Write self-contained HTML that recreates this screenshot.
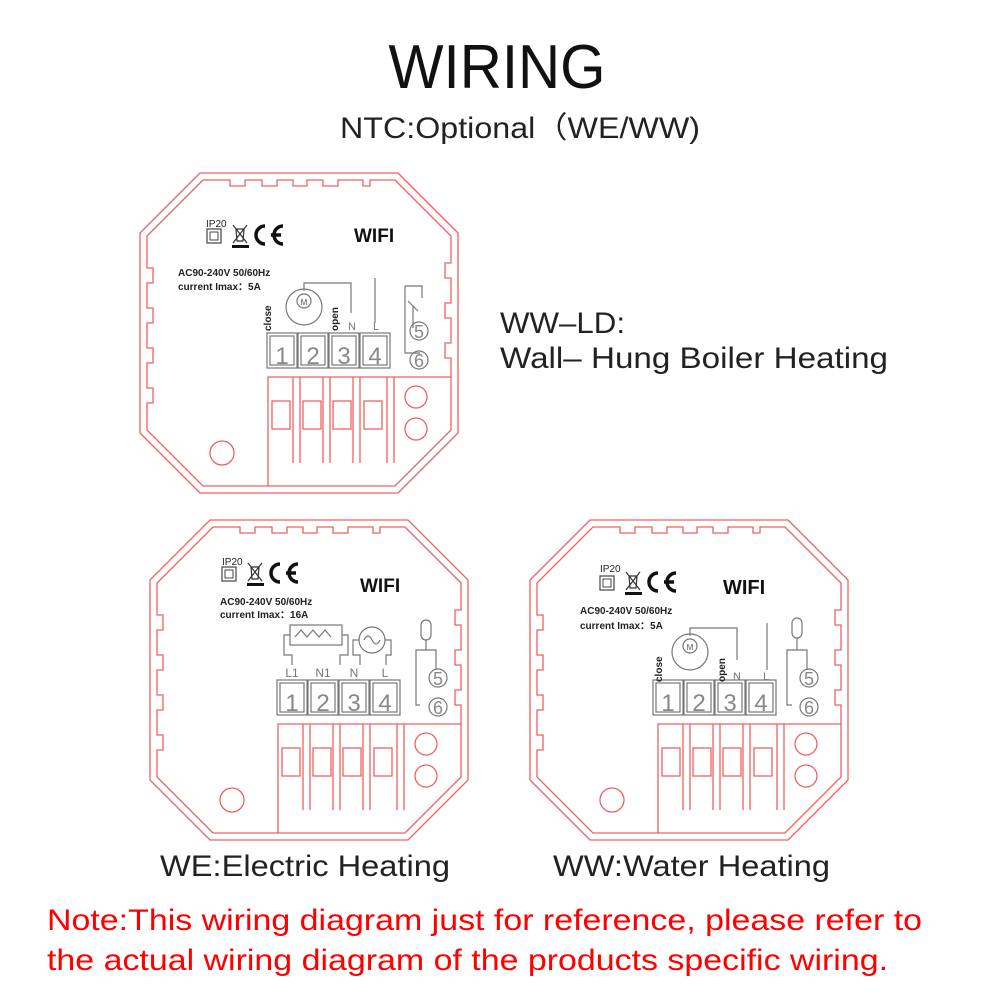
<!DOCTYPE html>
<html><head><meta charset="utf-8"><style>
html,body{margin:0;padding:0;background:#fff;width:1001px;height:1001px;overflow:hidden}
svg{display:block}
text{font-family:"Liberation Sans",sans-serif}
</style></head><body>
<svg width="1001" height="1001" viewBox="0 0 1001 1001" xmlns="http://www.w3.org/2000/svg">
<defs>
<g id="frame" fill="none" stroke="#f06060" stroke-width="1.3">
  <polygon points="60,0 258,0 318,60 318,260 258,320 60,320 0,260 0,60"/>
  <path d="M63,7 L90,7 L90,13 L105,13 L105,7 L122,7 L122,13 L137,13 L137,7 L153,7 L153,13 L167,13 L167,7 L183,7 L183,13 L198,13 L198,7 L223,7 L223,13 L230,13 L230,7 L255,7 L311,63 L311,90 L305,90 L305,105 L311,105 L311,130 L305,130 L305,145 L311,145 L311,170 L305,170 L305,185 L311,185 L311,257 L255,313 L63,313 L7,257 L7,230 L13,230 L13,215 L7,215 L7,190 L13,190 L13,175 L7,175 L7,150 L13,150 L13,135 L7,135 L7,110 L13,110 L13,95 L7,95 L7,63 Z"/>
  <circle cx="82" cy="280" r="12"/>
  <path d="M128,313 L128,204 L311,204"/>
  <path d="M153,204 V290 M160,204 V290 M183,204 V290 M190,204 V290 M213,204 V290 M220,204 V290 M247,204 V290 M254,204 V290"/>
  <rect x="132" y="228" width="18" height="28"/><rect x="163" y="228" width="18" height="28"/><rect x="193" y="228" width="18" height="28"/><rect x="224" y="228" width="18" height="28"/>
  <circle cx="276" cy="224" r="11"/><circle cx="276" cy="256" r="11"/>
</g>
<g id="terms" fill="none" stroke="#777" stroke-width="1.2">
  <rect x="0" y="0" width="30" height="35"/><rect x="3" y="3" width="24" height="29"/>
  <rect x="31" y="0" width="30" height="35"/><rect x="34" y="3" width="24" height="29"/>
  <rect x="62" y="0" width="30" height="35"/><rect x="65" y="3" width="24" height="29"/>
  <rect x="93" y="0" width="30" height="35"/><rect x="96" y="3" width="24" height="29"/>
</g>
<g id="logos">
  <rect x="2" y="14" width="14" height="14" fill="none" stroke="#444" stroke-width="1.2"/>
  <rect x="5" y="17" width="8" height="8" fill="none" stroke="#444" stroke-width="1"/>
  <path d="M28,10 L42,28 M42,10 L28,28 M31,14 h8 l-1,12 h-6 z" stroke="#333" stroke-width="1.2" fill="none"/>
  <rect x="27" y="30" width="17" height="3" fill="#111"/>
  <path d="M60,11 A9,9 0 1 0 60,29" stroke="#111" stroke-width="3.5" fill="none"/>
  <path d="M78,11 A9,9 0 1 0 78,29 M66,20 H76" stroke="#111" stroke-width="3.5" fill="none"/>
</g>
</defs>

<text x="497" y="88" font-size="62" text-anchor="middle" textLength="217" lengthAdjust="spacingAndGlyphs" fill="#111">WIRING</text>
<text x="340" y="138" font-size="30" textLength="360" lengthAdjust="spacingAndGlyphs" fill="#222">NTC:Optional（WE/WW)</text>
<text x="500" y="333" font-size="30" textLength="125" lengthAdjust="spacingAndGlyphs" fill="#222">WW–LD:</text>
<text x="500" y="368" font-size="30" textLength="388" lengthAdjust="spacingAndGlyphs" fill="#222">Wall– Hung Boiler Heating</text>
<text x="160" y="876" font-size="30" textLength="290" lengthAdjust="spacingAndGlyphs" fill="#222">WE:Electric Heating</text>
<text x="553" y="876" font-size="30" textLength="277" lengthAdjust="spacingAndGlyphs" fill="#222">WW:Water Heating</text>
<text x="47" y="930" font-size="30" textLength="875" lengthAdjust="spacingAndGlyphs" fill="#f00">Note:This wiring diagram just for reference, please refer to</text>
<text x="47" y="970" font-size="30" textLength="841" lengthAdjust="spacingAndGlyphs" fill="#f00">the actual wiring diagram of the products specific wiring.</text>

<!-- Device 1 -->
<g transform="translate(140,173)">
  <use href="#frame"/>
  <g transform="translate(65,42)"><use href="#logos"/></g>
  <text x="66" y="54" font-size="10" fill="#222">IP20</text>
  <text x="214" y="69" font-size="19" font-weight="bold" fill="#111">WIFI</text>
  <text x="38" y="103" font-size="10" font-weight="bold" fill="#222">AC90-240V 50/60Hz</text>
  <text x="38" y="117" font-size="10" font-weight="bold" fill="#222">current Imax：5A</text>
  <g transform="translate(127,160)"><use href="#terms"/></g>
  <g font-size="24" fill="#888" text-anchor="middle"><text x="142" y="191">1</text><text x="173" y="191">2</text><text x="204" y="191">3</text><text x="235" y="191">4</text></g>
  <g fill="none" stroke="#777" stroke-width="1.2">
    <circle cx="164" cy="134" r="18"/><circle cx="164" cy="128" r="7"/>
    <path d="M164,118 V110 H211 V140 M235,105 V150 M265,113 V180 H280 M265,113 H282 V125 M268,128 L278,138 M273,133 V155"/>
    <circle cx="279" cy="158" r="9"/><circle cx="279" cy="187" r="9"/>
  </g>
  <text x="164" y="132" font-size="8" fill="#555" text-anchor="middle">M</text>
  <g font-size="18" fill="#888" text-anchor="middle"><text x="279" y="165">5</text><text x="279" y="194">6</text></g>
  <text x="208" y="157" font-size="11" fill="#777">N</text><text x="233" y="157" font-size="11" fill="#777">L</text>
  <text transform="translate(131,158) rotate(-90)" font-size="10" font-weight="bold" fill="#222">close</text>
  <text transform="translate(198,158) rotate(-90)" font-size="10" font-weight="bold" fill="#222">open</text>
</g>

<!-- Device 2 -->
<g transform="translate(150,520)">
  <use href="#frame"/>
  <g transform="translate(70,33)"><use href="#logos"/></g>
  <text x="72" y="45" font-size="10" fill="#222">IP20</text>
  <text x="210" y="72" font-size="19" font-weight="bold" fill="#111">WIFI</text>
  <text x="70" y="85" font-size="10" font-weight="bold" fill="#222">AC90-240V 50/60Hz</text>
  <text x="70" y="98" font-size="10" font-weight="bold" fill="#222">current Imax：16A</text>
  <g transform="translate(127,160)"><use href="#terms"/></g>
  <g font-size="24" fill="#888" text-anchor="middle"><text x="142" y="191">1</text><text x="173" y="191">2</text><text x="204" y="191">3</text><text x="235" y="191">4</text></g>
  <g fill="none" stroke="#777" stroke-width="1.2">
    <rect x="140" y="105" width="52" height="20"/><path d="M145,117 l6,-7 l6,7 l6,-7 l6,7 l6,-7 l6,7"/>
    <path d="M140,115 H134 V135 H142 V145 M192,115 H198 V135 H190 V145"/>
    <circle cx="222" cy="120" r="13"/><path d="M214,120 q4,-8 8,0 q4,8 8,0"/>
    <path d="M209,120 H203 V135 H210 V145 M235,120 H241 V135 H236 V145"/>
    <rect x="271" y="100" width="10" height="20" rx="5"/><path d="M276,120 V130 H266 V185 H270 M276,130 H286 V150"/>
    <circle cx="288" cy="158" r="9"/><circle cx="288" cy="187" r="9"/>
  </g>
  <g font-size="18" fill="#888" text-anchor="middle"><text x="288" y="165">5</text><text x="288" y="194">6</text></g>
  <g font-size="12" fill="#777" text-anchor="middle"><text x="142" y="157">L1</text><text x="173" y="157">N1</text><text x="204" y="157">N</text><text x="235" y="157">L</text></g>
</g>

<!-- Device 3 -->
<g transform="translate(530,520)">
  <use href="#frame"/>
  <g transform="translate(68,42)"><use href="#logos"/></g>
  <text x="70" y="52" font-size="10" fill="#222">IP20</text>
  <text x="193" y="74" font-size="20" font-weight="bold" fill="#111">WIFI</text>
  <text x="50" y="94" font-size="10" font-weight="bold" fill="#222">AC90-240V 50/60Hz</text>
  <text x="50" y="109" font-size="10" font-weight="bold" fill="#222">current Imax：5A</text>
  <g transform="translate(123,160)"><use href="#terms"/></g>
  <g font-size="24" fill="#888" text-anchor="middle"><text x="138" y="191">1</text><text x="169" y="191">2</text><text x="200" y="191">3</text><text x="231" y="191">4</text></g>
  <g fill="none" stroke="#777" stroke-width="1.2">
    <circle cx="160" cy="132" r="18"/><circle cx="160" cy="126" r="7"/>
    <path d="M160,116 V108 H207 V140 M237,103 V150"/>
    <rect x="262" y="98" width="10" height="20" rx="5"/><path d="M267,118 V130 H257 V185 H262 M267,130 H277 V150"/>
    <circle cx="279" cy="158" r="9"/><circle cx="279" cy="187" r="9"/>
  </g>
  <text x="160" y="130" font-size="8" fill="#555" text-anchor="middle">M</text>
  <g font-size="18" fill="#888" text-anchor="middle"><text x="279" y="165">5</text><text x="279" y="194">6</text></g>
  <text x="203" y="160" font-size="11" fill="#777">N</text><text x="233" y="160" font-size="11" fill="#777">L</text>
  <text transform="translate(132,162) rotate(-90)" font-size="10" font-weight="bold" fill="#222">close</text>
  <text transform="translate(195,162) rotate(-90)" font-size="10" font-weight="bold" fill="#222">open</text>
</g>
</svg>
</body></html>
